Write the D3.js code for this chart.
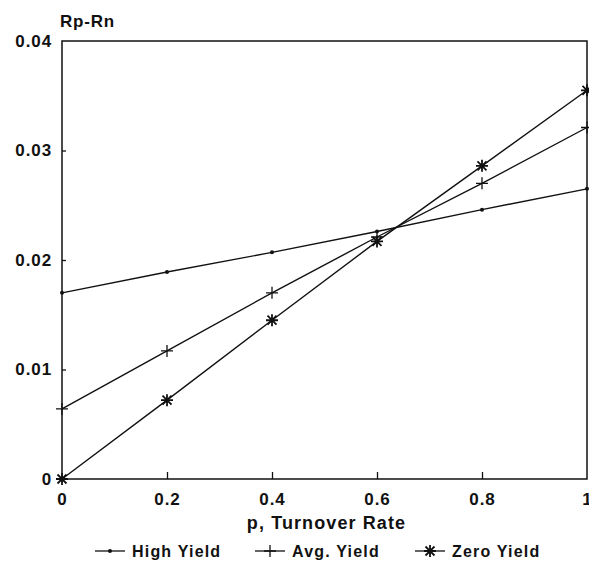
<!DOCTYPE html>
<html>
<head>
<meta charset="utf-8">
<script src="https://d3js.org/d3.v7.min.js"></script>
<style>
body { margin: 0; background: #fff; }
text { font-family: "Liberation Sans", Arial, sans-serif; font-weight: bold; fill: #111; }
</style>
</head>
<body>
<div id="chart"></div>
<script>
var turnover = [0, 0.2, 0.4, 0.6, 0.8, 1];
var highYield = [0.0170, 0.0189, 0.0207, 0.0226, 0.0246, 0.0265];
var avgYield = [0.0064, 0.0117, 0.0170, 0.0221, 0.0270, 0.0321];
var zeroYield = [0, 0.0072, 0.0145, 0.0217, 0.0286, 0.0355];
var seriesNames = ["High Yield", "Avg. Yield", "Zero Yield"];
var xTicks = [0, 0.2, 0.4, 0.6, 0.8, 1];
var yTicks = [0, 0.01, 0.02, 0.03, 0.04];

var svgWidth = 589;
var svgHeight = 567;
var plotLeft = 62, plotRight = 587, plotTop = 41, plotBottom = 479;

var svg = d3.select("#chart")
    .append("svg")
    .attr("width", svgWidth)
    .attr("height", svgHeight);

var x = d3.scaleLinear().domain([0, 1]).range([plotLeft, plotRight]);
var y = d3.scaleLinear().domain([0, 0.04]).range([plotBottom, plotTop]);

// frame
svg.append("rect")
    .attr("x", plotLeft).attr("y", plotTop)
    .attr("width", plotRight - plotLeft).attr("height", plotBottom - plotTop)
    .attr("fill", "none").attr("stroke", "#111").attr("stroke-width", 1.5);

// x axis: ticks point up into the plot
var xAxis = d3.axisBottom(x).tickValues(xTicks).tickSize(-7).tickPadding(14)
    .tickFormat(function(d) { return d === 0 || d === 1 ? d3.format("d")(d) : d3.format(".1f")(d); });
var gx = svg.append("g").attr("transform", "translate(0," + plotBottom + ")").call(xAxis);
gx.select(".domain").remove();
gx.selectAll(".tick line").attr("stroke", "#111").attr("stroke-width", 1.3)
    .filter(function(d) { return d === 0 || d === 1; }).remove();
gx.selectAll(".tick text").attr("font-size", 17).attr("letter-spacing", 0.9)
    .attr("font-family", "Liberation Sans, Arial, sans-serif").attr("font-weight", "bold");

// y axis: short ticks pointing right
var yAxis = d3.axisLeft(y).tickValues(yTicks).tickSize(-4).tickPadding(10)
    .tickFormat(function(d) { return d === 0 ? "0" : d3.format(".2f")(d); });
var gy = svg.append("g").attr("transform", "translate(" + plotLeft + ",0)").call(yAxis);
gy.select(".domain").remove();
gy.selectAll(".tick line").attr("stroke", "#111").attr("stroke-width", 1.3)
    .filter(function(d) { return d === 0 || d === 0.04; }).remove();
gy.selectAll(".tick text").attr("font-size", 17).attr("letter-spacing", 0.9)
    .attr("font-family", "Liberation Sans, Arial, sans-serif").attr("font-weight", "bold");

// titles
svg.append("text").attr("x", 60).attr("y", 27).attr("font-size", 17).attr("letter-spacing", 0.8).text("Rp-Rn");
svg.append("text").attr("x", (plotLeft + plotRight) / 2 + 2).attr("y", 529).attr("text-anchor", "middle")
    .attr("font-size", 18).attr("letter-spacing", 1.1).text("p, Turnover Rate");

// markers
function drawMarker(g, kind, cx, cy) {
    if (kind === 0) {
        g.append("circle").attr("cx", cx).attr("cy", cy).attr("r", 2).attr("fill", "#111");
    } else if (kind === 1) {
        g.append("path").attr("d", "M" + (cx - 6) + "," + cy + "H" + (cx + 6) + "M" + cx + "," + (cy - 6) + "V" + (cy + 6))
            .attr("stroke", "#111").attr("stroke-width", 1.3);
    } else {
        var s = 6, d = 4.5;
        g.append("path").attr("d",
            "M" + (cx - s) + "," + cy + "H" + (cx + s) +
            "M" + cx + "," + (cy - s) + "V" + (cy + s) +
            "M" + (cx - d) + "," + (cy - d) + "L" + (cx + d) + "," + (cy + d) +
            "M" + (cx - d) + "," + (cy + d) + "L" + (cx + d) + "," + (cy - d))
            .attr("stroke", "#111").attr("stroke-width", 1.8);
    }
}

var allSeries = [highYield, avgYield, zeroYield];
var line = d3.line()
    .x(function(d, i) { return x(turnover[i]); })
    .y(function(d) { return y(d); });

allSeries.forEach(function(values, k) {
    var g = svg.append("g");
    g.append("path").attr("d", line(values))
        .attr("fill", "none").attr("stroke", "#111").attr("stroke-width", 1.4);
    values.forEach(function(v, i) { drawMarker(g, k, x(turnover[i]), y(v)); });
});

// legend
var legendX = [95, 255, 415];
seriesNames.forEach(function(name, k) {
    var g = svg.append("g").attr("transform", "translate(" + legendX[k] + ",551)");
    g.append("line").attr("x1", 0).attr("x2", 30).attr("y1", 0).attr("y2", 0)
        .attr("stroke", "#111").attr("stroke-width", 1.3);
    drawMarker(g, k, 15, 0);
    g.append("text").attr("x", 37).attr("y", 6).attr("font-size", 16).attr("letter-spacing", 1.2).text(name);
});
</script>
</body>
</html>
